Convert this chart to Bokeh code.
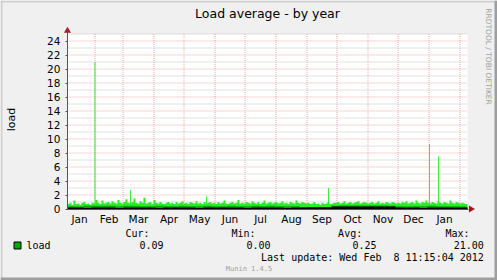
import math
import pandas as pd
from bokeh.plotting import figure
from bokeh.models import (Range1d, FixedTicker, Label, BoxAnnotation)
from bokeh.embed import file_html
from bokeh.resources import INLINE

# ---------------- data ----------------
start = pd.Timestamp("2011-01-04 11:15:04")
end = pd.Timestamp("2012-02-08 11:15:04")

# maximum load, 2-day bins (200 bins over 400 days)
max_load = [
    0.7, 0.9, 0.6, 1.2, 0.7, 0.8, 0.6, 0.9, 1.0, 0.7, 0.8, 0.6, 0.9,
    0.8, 1.3, 0.9, 0.7, 1.2, 0.8, 0.9, 1.0, 0.8, 1.1, 0.9, 0.8, 1.3, 0.9,
    0.8, 1.0, 1.4, 0.9, 0.8, 1.0, 1.5, 0.9, 0.8, 1.1, 0.9, 1.6, 0.8, 0.9, 1.0, 0.7,
    1.3, 0.9, 0.8, 1.0, 0.8, 0.7, 0.9, 1.0, 0.8, 0.9, 0.7, 1.0, 0.8, 0.9, 1.1,
    0.8, 0.9, 0.7, 1.0, 0.9, 0.8, 1.1, 0.8, 0.9, 0.7, 1.0, 0.8, 0.9, 1.0, 0.8,
    0.9, 0.7, 1.0, 0.8, 0.9, 1.2, 0.8, 0.7, 0.9, 1.0, 0.8, 0.9, 1.3, 0.8, 0.9,
    0.8, 1.0, 0.9, 0.8, 1.1, 0.9, 0.8, 1.0, 0.7, 0.9, 1.2, 0.8, 0.9, 1.0, 0.8, 0.9,
    1.0, 0.8, 0.9, 1.1, 0.8, 0.9, 0.7, 1.0, 0.9, 0.8, 1.2, 0.9, 0.8, 1.0, 0.9,
    0.8, 0.9, 0.7, 0.8, 1.0, 0.7, 0.8, 0.6, 0.9, 0.7, 0.8, 1.0, 0.7, 0.8, 0.9,
    0.9, 1.0, 0.8, 0.9, 1.1, 0.8, 0.9, 1.0, 0.8, 0.9, 1.0, 1.1, 0.8, 0.9, 1.0, 0.9,
    0.8, 0.9, 1.0, 0.8, 0.9, 1.1, 0.8, 0.9, 0.8, 1.0, 0.9, 0.8, 1.0, 0.9, 0.8,
    0.9, 0.8, 1.0, 0.9, 1.1, 0.8, 0.9, 1.0, 0.8, 1.2, 0.9, 0.8, 1.0, 0.9, 1.2, 0.9,
    0.8, 1.0, 0.9, 0.8, 1.1, 0.9, 0.8, 1.0, 0.9, 0.8, 1.2, 0.9, 0.8, 1.0, 0.9, 0.8, 0.9, 0.8, 0.7,
]

# average load, 8-day bins (50 bins)
avg_load = [
    0.40, 0.35, 0.45, 0.45, 0.45, 0.45, 0.40, 0.45, 0.45, 0.40,
    0.40, 0.45, 0.40, 0.40, 0.45, 0.40, 0.40, 0.45, 0.40, 0.40,
    0.45, 0.40, 0.40, 0.45, 0.40, 0.45, 0.40, 0.40, 0.40, 0.30,
    0.25, 0.30, 0.30, 0.45, 0.50, 0.50, 0.50, 0.50, 0.50, 0.50,
    0.45, 0.40, 0.35, 0.40, 0.40, 0.45, 0.40, 0.40, 0.40, 0.35,
]

# minimum load, 8-day bins (50 bins)
min_load = [
    0.20, 0.20, 0.15, 0.20, 0.20, 0.20, 0.15, 0.20, 0.20, 0.20,
    0.20, 0.15, 0.20, 0.20, 0.20, 0.20, 0.15, 0.20, 0.20, 0.20,
    0.20, 0.20, 0.15, 0.20, 0.20, 0.20, 0.20, 0.15, 0.20, 0.20,
    0.25, 0.25, 0.25, 0.35, 0.35, 0.35, 0.35, 0.35, 0.35, 0.35,
    0.35, 0.20, 0.20, 0.20, 0.15, 0.20, 0.20, 0.20, 0.20, 0.20,
]

# isolated peaks (daily maxima)
spike_dates = ["2011-02-01 00:00", "2011-03-08 12:00", "2011-05-23 12:00",
               "2011-09-22 12:00", "2012-01-01 12:00", "2012-01-10 12:00"]
spike_values = [21.0, 2.7, 1.8, 3.0, 9.3, 7.5]

month_labels = ["Jan", "Feb", "Mar", "Apr", "May", "Jun", "Jul",
                "Aug", "Sep", "Oct", "Nov", "Dec", "Jan"]
y_major = list(range(0, 25, 2))
y_minor = list(range(1, 26, 2))
y_top = 25

title_text = "Load average - by year"
y_label = "load"
series_name = "load"
stat_names = ["Cur:", "Min:", "Avg:", "Max:"]
stat_values = ["0.09", "0.00", "0.25", "21.00"]
# no-break space keeps the double blank before the day visible in SVG text
last_update = "Last update: Wed Feb\u00a0 8 11:15:04 2012"
footer = "Munin 1.4.5"
side_text = "RRDTOOL / TOBI OETIKER"

# ---------------- colours ----------------
C_MAX = "#2BEB2B"
C_AVG = "#00AA00"
C_MIN = "#000000"
C_BACK = "#F0F0F0"
C_CANVAS = "#FFFFFF"
C_MGRID = "#F2AAAA"
C_GRID = "#C4C4C4"
C_AXIS = "#555555"
C_ARROW = "#9B1B1B"
C_SHADEA = "#CFCFCF"
C_SHADEB = "#9E9E9E"

# ---------------- geometry ----------------
W, H = 497, 280
DAY = pd.Timedelta(days=1)
# the whole canvas is the frame: 1 px per day, 7 px per load unit
x0 = pd.Timestamp("2010-10-29 12:00")
x1 = x0 + W * DAY
Y_ZERO = 208.5                       # canvas row of load 0
PX_PER_UNIT = 7.0
y_lo = -(H - Y_ZERO) / PX_PER_UNIT
y_hi = Y_ZERO / PX_PER_UNIT


def ms(t):
    return pd.Timestamp(t).value / 1e6


p = figure(width=W, height=H, x_axis_type="datetime",
           x_range=Range1d(x0, x1), y_range=Range1d(y_lo, y_hi),
           output_backend="svg", toolbar_location=None,
           min_border=0, min_border_left=0, min_border_right=0,
           min_border_top=0, min_border_bottom=0)
p.background_fill_color = C_BACK
p.border_fill_color = C_BACK
p.outline_line_color = None
p.grid.visible = False

# white canvas of the graph
p.quad(left=[start], right=[end], bottom=[0], top=[y_top],
       fill_color=C_CANVAS, line_color=None)

# grid lines (drawn under the data)
month_starts = pd.date_range("2011-02-01", "2012-02-01", freq="MS")
p.segment(x0=[start] * len(y_minor), x1=[end] * len(y_minor), y0=y_minor, y1=y_minor,
          line_color=C_GRID, line_width=1, line_dash="1 1")
p.segment(x0=[start] * (len(y_major) - 1), x1=[end] * (len(y_major) - 1),
          y0=y_major[1:], y1=y_major[1:],
          line_color=C_MGRID, line_width=1, line_dash="1 1")
p.segment(x0=month_starts, x1=month_starts, y0=[0] * len(month_starts),
          y1=[y_top] * len(month_starts),
          line_color=C_MGRID, line_width=1, line_dash="1 1")


def step_x(n_bins, days):
    return [start + pd.Timedelta(days=days * i) for i in range(n_bins + 1)]


xm = step_x(len(max_load), 2)
p.varea_step(x=xm, y1=[0] * len(xm), y2=max_load + [max_load[-1]], step_mode="after",
             fill_color=C_MAX)
sd = pd.to_datetime(spike_dates)
p.vbar(x=sd, width=pd.Timedelta(hours=22), top=spike_values, bottom=0,
       fill_color=C_MAX, line_color=None)
xa = step_x(len(avg_load), 8)
p.varea_step(x=xa, y1=[0] * len(xa), y2=avg_load + [avg_load[-1]], step_mode="after",
             fill_color=C_AVG)
p.varea_step(x=xa, y1=[0] * len(xa), y2=min_load + [min_load[-1]], step_mode="after",
             fill_color=C_MIN)

# ---- axes, pinned inside the full-canvas frame ----
month_firsts = pd.date_range("2011-01-01", "2012-01-01", freq="MS")
mids = [int((m + pd.Timedelta(days=m.days_in_month / 2)).value // 10**6) for m in month_firsts]

xa_ = p.xaxis[0]
xa_.fixed_location = 0
xa_.bounds = (ms(start), ms(end) + 1.5 * 86400000)
xa_.ticker = FixedTicker(ticks=mids)
xa_.major_label_overrides = {t: lab for t, lab in zip(mids, month_labels)}
xa_.major_tick_line_color = None
xa_.major_tick_out = 0
xa_.major_tick_in = 0
xa_.minor_tick_line_color = None
xa_.minor_tick_out = 0
xa_.major_label_standoff = 4

ya_ = p.yaxis[0]
ya_.fixed_location = ms(start)
ya_.bounds = (0, y_top + 0.8)
ya_.ticker = FixedTicker(ticks=y_major, minor_ticks=[])
ya_.major_tick_line_color = C_AXIS
ya_.major_tick_out = 2
ya_.major_tick_in = 0
ya_.minor_tick_line_color = None
ya_.major_label_standoff = 5

for ax in (xa_, ya_):
    ax.axis_line_color = C_AXIS
    ax.axis_line_width = 1
    ax.major_label_text_font = "DejaVu Sans"
    ax.major_label_text_font_size = "10.5px"
    ax.major_label_text_color = "#000000"

# axis arrows
p.scatter(x=[start], y=[y_top + 0.45], marker="triangle", size=7,
          fill_color=C_ARROW, line_color=None)
p.scatter(x=[end + 3.5 * DAY], y=[0], marker="triangle", size=7, angle=-math.pi / 2,
          fill_color=C_ARROW, line_color=None)


# ---- texts (screen units, canvas coordinates from the top-left) ----
def txt(X, Y, s, size, font="DejaVu Sans", align="left", color="#000000", angle=0.0):
    p.add_layout(Label(x=X, y=H - Y, x_units="screen", y_units="screen", text=s,
                       text_font=font, text_font_size=size, text_align=align,
                       text_baseline="middle", text_color=color, angle=angle))


txt(267, 13, title_text, "12.5px", align="center")
txt(11, 119, y_label, "11px", align="center", angle=math.pi / 2)
txt(488, 56, side_text, "7.5px", align="center", color="#A0A0A0", angle=-math.pi / 2)

MONO = "DejaVu Sans Mono"
stat_label_right = [149, 255, 361.7, 469]
stat_value_right = [163, 270, 376, 483.3]
for name, xr in zip(stat_names, stat_label_right):
    txt(xr, 233, name, "10px", font=MONO, align="right")
for val, xr in zip(stat_values, stat_value_right):
    txt(xr, 244.5, val, "10px", font=MONO, align="right")
txt(26, 244.5, series_name, "10px", font=MONO)
txt(483.3, 256.7, last_update, "10px", font=MONO, align="right")
txt(248.5, 268.3, footer, "7px", font=MONO, align="center", color="#A0A0A0")


def box(l, r, t, b, fill, line=None):
    p.add_layout(BoxAnnotation(left=l, right=r, top=H - t, bottom=H - b,
                               left_units="screen", right_units="screen",
                               top_units="screen", bottom_units="screen",
                               fill_color=fill, fill_alpha=1.0,
                               line_color=line, line_width=1, line_alpha=1.0))


# legend swatch
box(13.5, 20.5, 241.5, 248.5, C_AVG, "#000000")
# canvas frame (light top/left, darker bottom/right)
box(0, W, 0, 2, C_SHADEA)
box(0, 2, 0, H, C_SHADEA)
box(0, W, H - 3, H, C_SHADEB)
box(W - 3, W, 0, H, C_SHADEB)

open("out.html", "w").write(file_html(p, INLINE))
